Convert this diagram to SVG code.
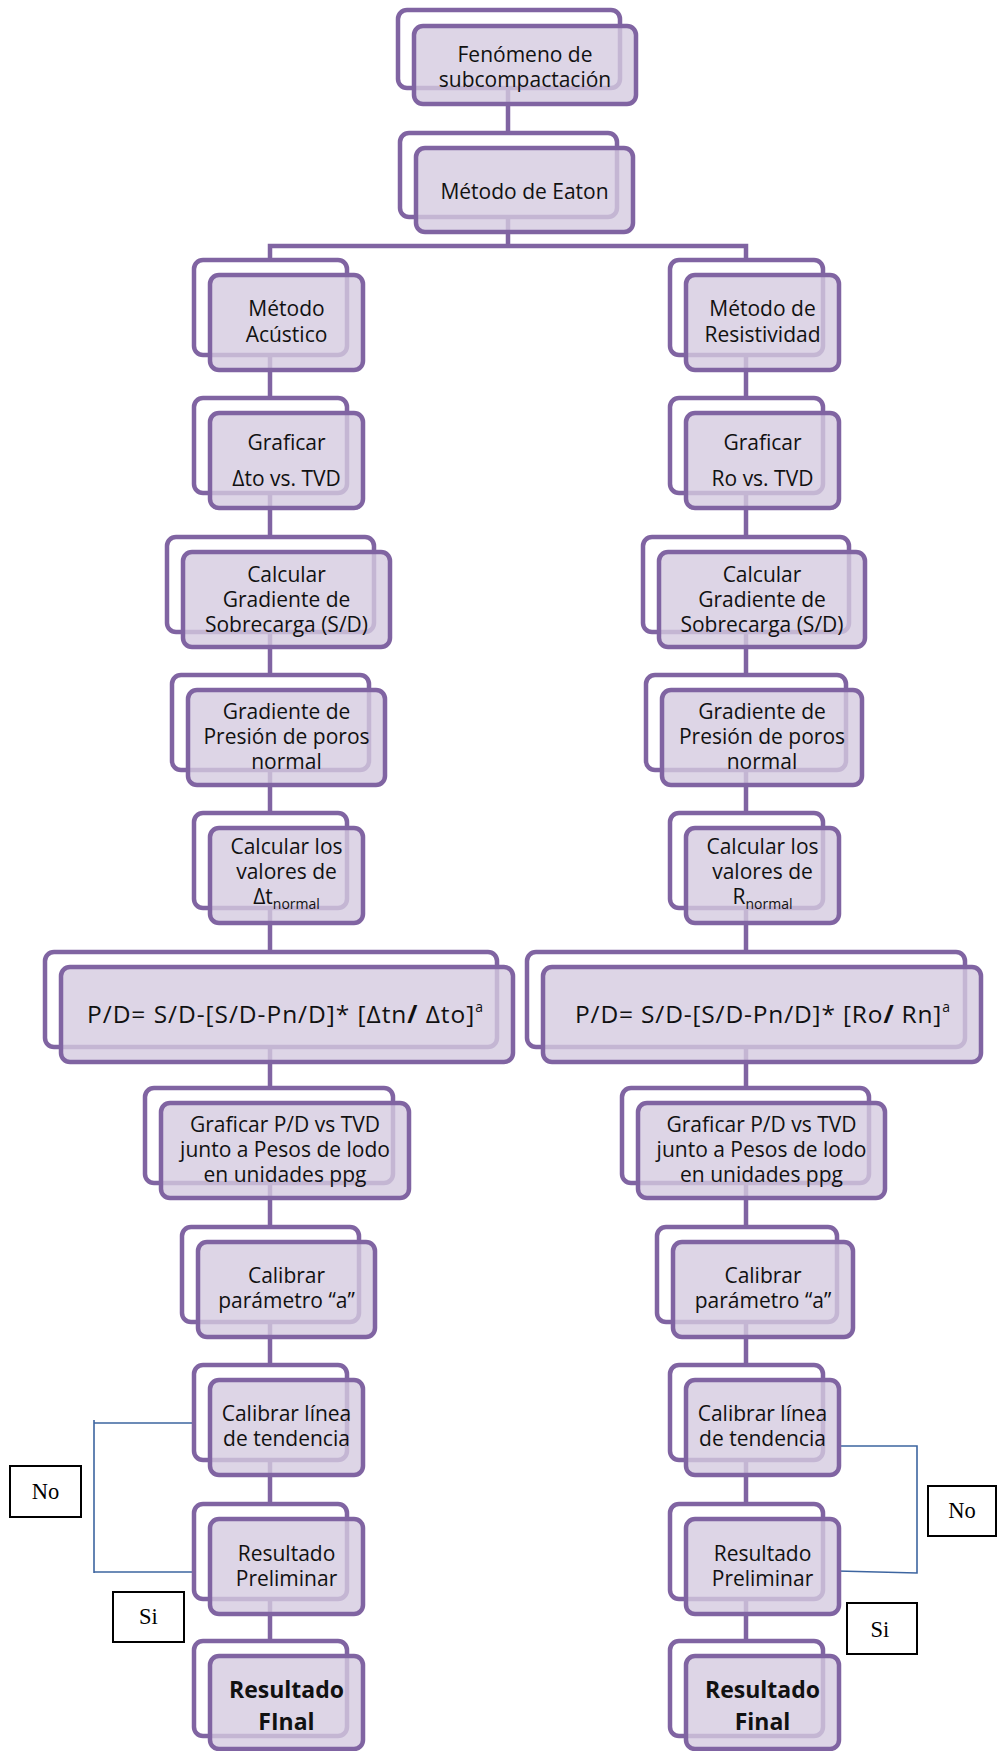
<svg xmlns="http://www.w3.org/2000/svg" width="998" height="1751" viewBox="0 0 998 1751">
<defs>
<style>
.back{fill:#ffffff;stroke:#8064a2;stroke-width:4.5}
.front{fill:#d4cae0;fill-opacity:0.8;stroke:#8064a2;stroke-width:4.5}
.con{fill:none;stroke:#8064a2;stroke-width:4.5;stroke-linejoin:miter}
.blue{fill:none;stroke:#3d65a0;stroke-width:1.6}
.t{font-family:"Open Sans","Liberation Sans",sans-serif;font-size:21px;fill:#111111;text-anchor:middle}
.f{font-size:24.5px}
.b{font-weight:bold;font-size:23px}
.lab{fill:#ffffff;stroke:#000000;stroke-width:2}
.lt{font-family:"Liberation Serif","Times New Roman",serif;font-size:22.5px;fill:#000;text-anchor:middle}
</style>
</defs>
<rect width="998" height="1751" fill="#ffffff"/>

<g id="connectors">
<path class="con" d="M508,50 V246 M270,1700 V246 H746 V1700"/>
<path class="blue" d="M210,1423 H94 M94,1420 V1573 M94,1572 H210"/>
<path class="blue" d="M837,1446 H917 V1573 L837,1571"/>
</g>

<g id="n-fenomeno">
<rect class="back" x="398" y="10" width="222" height="78" rx="9"/>
<rect class="front" x="414" y="26" width="222" height="78" rx="9"/>
<text class="t" x="525" y="62">Fenómeno de</text>
<text class="t" x="525" y="87">subcompactación</text>
</g>

<g id="n-eaton">
<rect class="back" x="400" y="133" width="217" height="84" rx="9"/>
<rect class="front" x="416" y="148" width="217" height="84" rx="9"/>
<text class="t" x="524.5" y="199">Método de Eaton</text>
</g>

<!-- Left column -->
<g id="l-acustico">
<rect class="back" x="194" y="260" width="153" height="95" rx="9"/>
<rect class="front" x="210" y="275" width="153" height="95" rx="9"/>
<text class="t" x="286.5" y="316">Método</text>
<text class="t" x="286.5" y="342">Acústico</text>
</g>
<g id="l-graficar">
<rect class="back" x="194" y="398" width="153" height="95" rx="9"/>
<rect class="front" x="210" y="413" width="153" height="95" rx="9"/>
<text class="t" x="286.5" y="450">Graficar</text>
<text class="t" x="286.5" y="486">Δto vs. TVD</text>
</g>
<g id="l-sobrecarga">
<rect class="back" x="167" y="537" width="207" height="95" rx="9"/>
<rect class="front" x="183" y="552" width="207" height="95" rx="9"/>
<text class="t" x="286.5" y="582">Calcular</text>
<text class="t" x="286.5" y="607">Gradiente de</text>
<text class="t" x="286.5" y="632">Sobrecarga (S/D)</text>
</g>
<g id="l-presion">
<rect class="back" x="172" y="675" width="197" height="95" rx="9"/>
<rect class="front" x="188" y="690" width="197" height="95" rx="9"/>
<text class="t" x="286.5" y="719">Gradiente de</text>
<text class="t" x="286.5" y="744">Presión de poros</text>
<text class="t" x="286.5" y="769">normal</text>
</g>
<g id="l-valores">
<rect class="back" x="194" y="813" width="153" height="95" rx="9"/>
<rect class="front" x="210" y="828" width="153" height="95" rx="9"/>
<text class="t" x="286.5" y="854">Calcular los</text>
<text class="t" x="286.5" y="879">valores de</text>
<text class="t" x="286.5" y="904">Δt<tspan font-size="14" dy="5">normal</tspan></text>
</g>
<g id="l-formula">
<rect class="back" x="45" y="952" width="452" height="95" rx="9"/>
<rect class="front" x="61" y="967" width="452" height="95" rx="9"/>
<text class="t f" x="285" y="1023" textLength="396" lengthAdjust="spacing">P/D= S/D-[S/D-Pn/D]* [Δtn<tspan font-weight="bold">/</tspan> Δto]<tspan font-size="14" dy="-11">a</tspan></text>
</g>
<g id="l-graficar-pd">
<rect class="back" x="145" y="1088" width="248" height="95" rx="9"/>
<rect class="front" x="161" y="1103" width="248" height="95" rx="9"/>
<text class="t" x="285" y="1132">Graficar P/D vs TVD</text>
<text class="t" x="285" y="1157">junto a Pesos de lodo</text>
<text class="t" x="285" y="1182">en unidades ppg</text>
</g>
<g id="l-calibrar-a">
<rect class="back" x="182" y="1227" width="177" height="95" rx="9"/>
<rect class="front" x="198" y="1242" width="177" height="95" rx="9"/>
<text class="t" x="286.5" y="1283">Calibrar</text>
<text class="t" x="286.5" y="1308">parámetro “a”</text>
</g>
<g id="l-tendencia">
<rect class="back" x="194" y="1365" width="153" height="95" rx="9"/>
<rect class="front" x="210" y="1380" width="153" height="95" rx="9"/>
<text class="t" x="286.5" y="1421">Calibrar línea</text>
<text class="t" x="286.5" y="1446">de tendencia</text>
</g>
<g id="l-preliminar">
<rect class="back" x="194" y="1504" width="153" height="95" rx="9"/>
<rect class="front" x="210" y="1519" width="153" height="95" rx="9"/>
<text class="t" x="286.5" y="1561">Resultado</text>
<text class="t" x="286.5" y="1586">Preliminar</text>
</g>
<g id="l-final">
<rect class="back" x="194" y="1641" width="153" height="95" rx="9"/>
<rect class="front" x="210" y="1656" width="153" height="93" rx="9"/>
<text class="t b" x="286.5" y="1698">Resultado</text>
<text class="t b" x="286.5" y="1730">FInal</text>
</g>

<!-- Right column -->
<g id="r-resistividad">
<rect class="back" x="670" y="260" width="153" height="95" rx="9"/>
<rect class="front" x="686" y="275" width="153" height="95" rx="9"/>
<text class="t" x="762.5" y="316">Método de</text>
<text class="t" x="762.5" y="342">Resistividad</text>
</g>
<g id="r-graficar">
<rect class="back" x="670" y="398" width="153" height="95" rx="9"/>
<rect class="front" x="686" y="413" width="153" height="95" rx="9"/>
<text class="t" x="762.5" y="450">Graficar</text>
<text class="t" x="762.5" y="486">Ro vs. TVD</text>
</g>
<g id="r-sobrecarga">
<rect class="back" x="643" y="537" width="206" height="95" rx="9"/>
<rect class="front" x="659" y="552" width="206" height="95" rx="9"/>
<text class="t" x="762" y="582">Calcular</text>
<text class="t" x="762" y="607">Gradiente de</text>
<text class="t" x="762" y="632">Sobrecarga (S/D)</text>
</g>
<g id="r-presion">
<rect class="back" x="646" y="675" width="200" height="95" rx="9"/>
<rect class="front" x="662" y="690" width="200" height="95" rx="9"/>
<text class="t" x="762" y="719">Gradiente de</text>
<text class="t" x="762" y="744">Presión de poros</text>
<text class="t" x="762" y="769">normal</text>
</g>
<g id="r-valores">
<rect class="back" x="670" y="813" width="153" height="95" rx="9"/>
<rect class="front" x="686" y="828" width="153" height="95" rx="9"/>
<text class="t" x="762.5" y="854">Calcular los</text>
<text class="t" x="762.5" y="879">valores de</text>
<text class="t" x="762.5" y="904">R<tspan font-size="14" dy="5">normal</tspan></text>
</g>
<g id="r-formula">
<rect class="back" x="527" y="952" width="438" height="95" rx="9"/>
<rect class="front" x="543" y="967" width="438" height="95" rx="9"/>
<text class="t f" x="762.5" y="1023" textLength="375" lengthAdjust="spacing">P/D= S/D-[S/D-Pn/D]* [Ro<tspan font-weight="bold">/</tspan> Rn]<tspan font-size="14" dy="-11">a</tspan></text>
</g>
<g id="r-graficar-pd">
<rect class="back" x="622" y="1088" width="247" height="95" rx="9"/>
<rect class="front" x="638" y="1103" width="247" height="95" rx="9"/>
<text class="t" x="761.5" y="1132">Graficar P/D vs TVD</text>
<text class="t" x="761.5" y="1157">junto a Pesos de lodo</text>
<text class="t" x="761.5" y="1182">en unidades ppg</text>
</g>
<g id="r-calibrar-a">
<rect class="back" x="657" y="1227" width="180" height="95" rx="9"/>
<rect class="front" x="673" y="1242" width="180" height="95" rx="9"/>
<text class="t" x="763" y="1283">Calibrar</text>
<text class="t" x="763" y="1308">parámetro “a”</text>
</g>
<g id="r-tendencia">
<rect class="back" x="670" y="1365" width="153" height="95" rx="9"/>
<rect class="front" x="686" y="1380" width="153" height="95" rx="9"/>
<text class="t" x="762.5" y="1421">Calibrar línea</text>
<text class="t" x="762.5" y="1446">de tendencia</text>
</g>
<g id="r-preliminar">
<rect class="back" x="670" y="1504" width="153" height="95" rx="9"/>
<rect class="front" x="686" y="1519" width="153" height="95" rx="9"/>
<text class="t" x="762.5" y="1561">Resultado</text>
<text class="t" x="762.5" y="1586">Preliminar</text>
</g>
<g id="r-final">
<rect class="back" x="670" y="1641" width="153" height="95" rx="9"/>
<rect class="front" x="686" y="1656" width="153" height="93" rx="9"/>
<text class="t b" x="762.5" y="1698">Resultado</text>
<text class="t b" x="762.5" y="1730">Final</text>
</g>

<!-- Labels -->
<g id="lab-no-left">
<rect class="lab" x="10" y="1466" width="71" height="51"/>
<text class="lt" x="45.5" y="1499">No</text>
</g>
<g id="lab-si-left">
<rect class="lab" x="113" y="1592" width="71" height="50"/>
<text class="lt" x="148.5" y="1624">Si</text>
</g>
<g id="lab-no-right">
<rect class="lab" x="928" y="1486" width="68" height="50"/>
<text class="lt" x="962" y="1518">No</text>
</g>
<g id="lab-si-right">
<rect class="lab" x="847" y="1603" width="70" height="51"/>
<text class="lt" x="880" y="1637">Si</text>
</g>
</svg>
